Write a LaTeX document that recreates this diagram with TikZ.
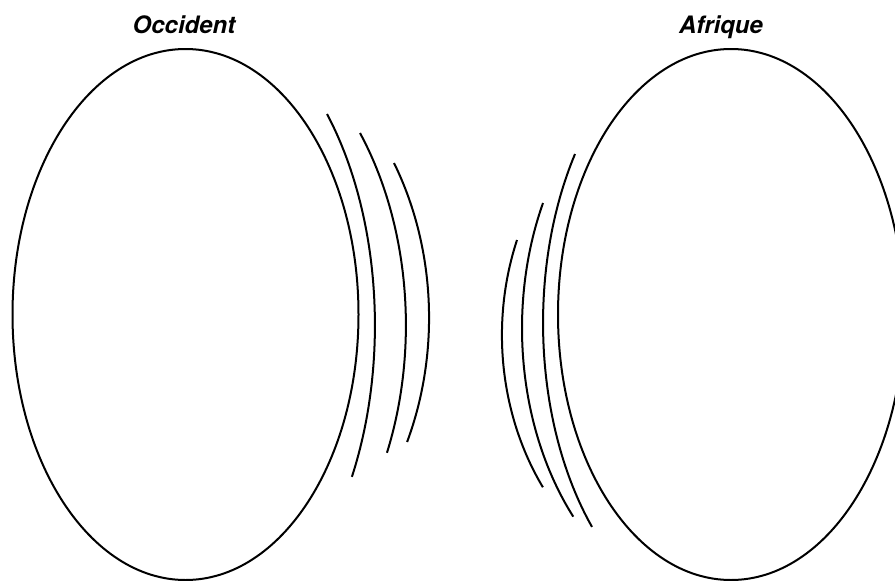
\documentclass[tikz,border=0pt]{standalone}
\usepackage{fontspec}
\setmainfont{TeX Gyre Heros}
\usetikzlibrary{shapes.geometric}

\begin{document}
\begin{tikzpicture}[
    x=1pt, y=-1pt,
    region/.style={draw, ellipse, line width=2pt, inner sep=0pt,
        minimum width=346pt, minimum height=531pt},
    regionname/.style={anchor=base, font=\fontsize{24}{28}\selectfont\bfseries\itshape},
    wave/.style={line width=2pt}
]
    \useasboundingbox (0,0) rectangle (895,581);

    \node[region] (occ) at (185.5,314.5) {};
    \node[region] (afr) at (731,314.5) {};

    \node[regionname] (occname) at (184,33) {Occident};
    \node[regionname] (afrname) at (721,33) {Afrique};

    % ondes a droite de l'Occident
    \draw[wave] (327,114) arc[start angle=-41.6, end angle=28.5, x radius=190, y radius=318];
    \draw[wave] (360,133) arc[start angle=-37.6, end angle=23.9, x radius=221, y radius=315];
    \draw[wave] (394,163) arc[start angle=-31.1, end angle=24.5, x radius=244, y radius=299.6];

    % ondes a gauche de l'Afrique
    \draw[wave] (575,154) arc[start angle=213.9, end angle=137.7, x radius=188, y radius=303];
    \draw[wave] (543,203) arc[start angle=205.9, end angle=139.0, x radius=209, y radius=287];
    \draw[wave] (517,240) arc[start angle=200.9, end angle=145.2, x radius=229, y radius=266.6];

\end{tikzpicture}
\end{document}
